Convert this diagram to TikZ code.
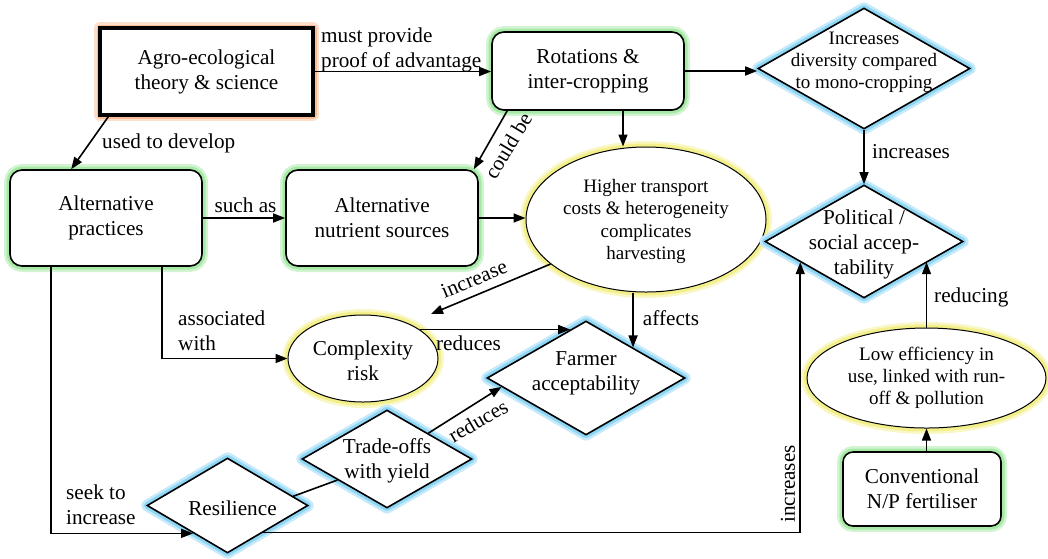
\documentclass[tikz,border=0pt]{standalone}
\usepackage{fontspec}
\setmainfont{Liberation Serif}
\usetikzlibrary{shapes.geometric,arrows.meta,calc}
\definecolor{gglow}{HTML}{7FE07F}
\definecolor{bglow}{HTML}{5EC4F2}
\definecolor{yglow}{HTML}{EEE85A}
\definecolor{oglow}{HTML}{F5A06A}
\begin{document}
\begin{tikzpicture}[x=1pt,y=-1pt,
  bigtxt/.style={font=\fontsize{21.2}{25}\selectfont},
  smalltxt/.style={font=\fontsize{19}{22.3}\selectfont},
  glow/.style={preaction={draw=#1!35,line width=12pt,line join=round},
               preaction={draw=#1!70,line width=7pt,line join=round}},
  rbox/.style={draw, line width=1.6pt, fill=white, rounded corners=12pt, align=center,
               inner sep=0pt, bigtxt, glow=gglow},
  dia/.style={diamond, draw, line width=1.6pt, fill=white, inner sep=0pt, glow=bglow},
  ell/.style={ellipse, draw, line width=1pt, fill=white, inner sep=0pt, glow=yglow},
  lab/.style={align=center, inner sep=0pt},
  arr/.style={line width=1.6pt, -{Triangle[length=12pt,width=9pt]}},
  con/.style={line width=1.6pt},
  elab/.style={inner sep=0pt, bigtxt},
]
\useasboundingbox (0,0) rectangle (1048,558);

% nodes
\node[draw, line width=3.5pt, fill=white, glow=oglow, minimum width=213pt, minimum height=87pt,
      align=center, inner sep=0pt, bigtxt] (agro) at (206.5,71.5) {Agro-ecological\\theory \& science};
\node[rbox, minimum width=192pt, minimum height=78pt] (rot) at (588,71) {Rotations \&\\inter-cropping};
\node[dia, minimum width=212pt, minimum height=121pt,
      label={[lab,smalltxt,yshift=6pt]center:{Increases\\diversity compared\\to mono-cropping}}] (div) at (864,68.5) {};
\node[rbox, minimum width=192pt, minimum height=96pt] (altp) at (106,218) {Alternative\\practices};
\node[rbox, minimum width=192pt, minimum height=96pt] (altn) at (382,218) {Alternative\\nutrient sources};
\node[ell, minimum width=240pt, minimum height=145pt,
      label={[lab,smalltxt,yshift=-2pt]center:{Higher transport\\costs \& heterogeneity\\complicates\\harvesting}}] (high) at (646,219.5) {};
\node[dia, minimum width=198pt, minimum height=113pt,
      label={[lab,bigtxt,yshift=-3pt]center:{Political /\\social accep-\\tability}}] (pol) at (864,241.5) {};
\node[ell, minimum width=150pt, minimum height=87pt,
      label={[lab,bigtxt,yshift=-2pt]center:{Complexity\\risk}}] (cplx) at (363,358.5) {};
\node[dia, minimum width=198pt, minimum height=114pt,
      label={[lab,bigtxt,yshift=5pt]center:{Farmer\\acceptability}}] (farm) at (586,378) {};
\node[dia, minimum width=170pt, minimum height=98pt,
      label={[lab,bigtxt,yshift=-2pt]center:{Trade-offs\\with yield}}] (trade) at (387,459) {};
\node[dia, minimum width=161pt, minimum height=95pt,
      label={[lab,bigtxt,yshift=-3pt,xshift=5pt]center:{Resilience}}] (res) at (227.5,505.5) {};
\node[ell, minimum width=239pt, minimum height=100pt,
      label={[lab,smalltxt]center:{Low efficiency in\\use, linked with run-\\off \& pollution}}] (low) at (926.5,378) {};
\node[rbox, rounded corners=10pt, minimum width=158pt, minimum height=74pt] (conv) at (922,489) {Conventional\\N/P fertiliser};

% connectors
\draw[arr] (agro.east) -- (agro.east -| rot.west);
\node[elab, align=left, anchor=west] (lmust) at (321,50) {must provide\\proof of advantage};

\draw[arr] ([xshift=10pt]agro.south west) -- ([xshift=62pt]altp.north west);
\node[elab, anchor=west] (lused) at (102,143) {used to develop};

\draw[arr] ([xshift=16pt]rot.south west) -- ([xshift=-5pt]altn.north east);
\node[elab, rotate=59] (lcould) at (508,146) {could be};

\coordinate (r1) at ([xshift=35pt]rot.south);
\draw[arr] (r1) -- (r1 |- high.north);

\draw[arr] (rot.east) -- (rot.east -| div.west);

\draw[arr] (div.south) -- (pol.north);
\node[elab, anchor=west] (linc1) at (872,152) {increases};

\draw[arr] (altp.east) -- (altn.west);
\node[elab] (lsuch) at (245.5,205) {such as};

\draw[arr] (altn.east) -- (altn.east -| high.west);

\coordinate (incend) at (431,314);
\draw[arr] (high.205) -- (incend);
\node[elab, rotate=22.6] (lincr) at (474,279) {increase};

\draw[arr] (high.south -| farm.33) -- (farm.33);
\node[elab] (laff) at (671,318) {affects};

\draw[arr] ([xshift=153pt]altp.south west) |- (cplx.west);
\node[elab, align=left, anchor=west] (lassoc) at (178,331) {associated\\with};

\draw[arr] (cplx.27) -- (cplx.27 -| farm.108);
\node[elab] (lred1) at (468.5,343) {reduces};

\draw[con] (res.8) -- (trade.203);

\draw[arr] (trade.32) -- (farm.186);
\node[elab, rotate=30] (lred2) at (478,421) {reduces};

\draw[arr] ([xshift=42pt]altp.south west) |- (res.219);
\node[elab, align=left, anchor=west] (lseek) at (66,505) {seek to\\increase};

\draw[arr] (res.-37) -| (pol.198);
\node[elab, rotate=90] (linc2) at (788,484) {increases};

\draw[arr] (low.north) -- (low.north |- pol.-18);
\node[elab, anchor=west] (lredu) at (934,297) {reducing};

\draw[arr] (low.south |- conv.north) -- (low.south);
\end{tikzpicture}
\end{document}
